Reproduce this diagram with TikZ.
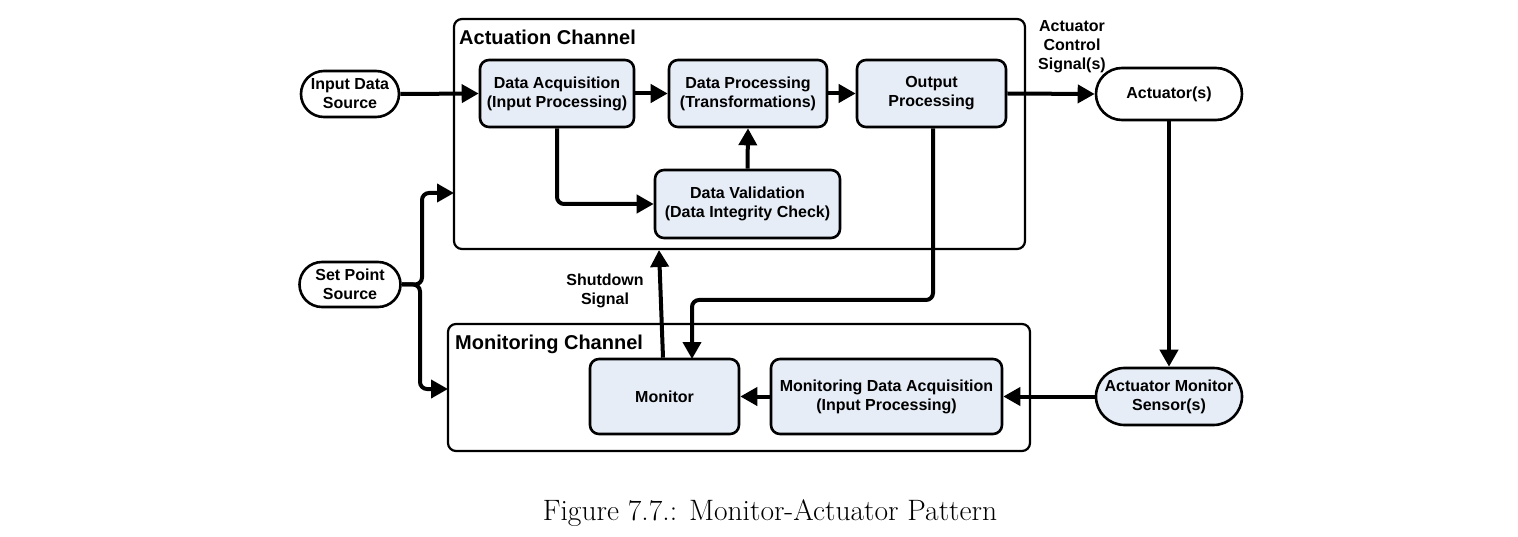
\documentclass[tikz,border=0pt]{standalone}
\usepackage{fontspec}
\setsansfont{Liberation Sans}
\usetikzlibrary{arrows.meta}
\definecolor{boxfill}{RGB}{230,237,247}
\tikzset{
  every node/.style={font=\sffamily\bfseries\fontsize{16}{19}\selectfont},
  chan/.style={draw, line width=2.2pt, rounded corners=8pt},
  proc/.style={draw, line width=2.6pt, rounded corners=9pt, fill=boxfill, align=center, inner sep=0pt},
  term/.style={draw, line width=2.6pt, align=center, inner sep=0pt},
  conn/.style={line width=4pt, -{Triangle[length=17pt,width=18pt]}, rounded corners=7pt},
  ttl/.style={anchor=base west, inner sep=0pt, font=\sffamily\bfseries\fontsize{20}{22}\selectfont},
  lbl/.style={align=center, inner sep=0pt},
}
\begin{document}
\begin{tikzpicture}[x=1pt,y=-1pt]
\useasboundingbox (0,0) rectangle (1518,537);
% channels
\node[chan, minimum width=571pt, minimum height=230pt, inner sep=0pt] (act) at (739.5,134) {};
\node[chan, minimum width=582pt, minimum height=127pt, inner sep=0pt] (mon) at (739,387.5) {};
\node[ttl] (actt) at (459,45) {Actuation Channel};
\node[ttl] (mont) at (455,349) {Monitoring Channel};
% terminals
\node[term, minimum width=98pt, minimum height=46pt, rounded corners=23pt] (ids) at (350,94) {Input Data\\Source};
\node[term, minimum width=101pt, minimum height=45pt, rounded corners=22.5pt] (sps) at (350,284.5) {Set Point\\Source};
\node[term, minimum width=146pt, minimum height=52pt, rounded corners=26pt] (actu) at (1169,94) {Actuator(s)};
\node[term, fill=boxfill, minimum width=146pt, minimum height=57pt, rounded corners=28.5pt] (sens) at (1169,396.5) {Actuator Monitor\\Sensor(s)};
% process boxes
\node[proc, minimum width=154pt, minimum height=67pt] (da) at (557,93.5) {Data Acquisition\\(Input Processing)};
\node[proc, minimum width=158pt, minimum height=67pt] (dp) at (748,93.5) {Data Processing\\(Transformations)};
\node[proc, minimum width=149pt, minimum height=67pt] (op) at (931.5,93.5) {Output\\Processing};
\node[proc, minimum width=185pt, minimum height=68pt] (dv) at (747.5,204) {Data Validation\\(Data Integrity Check)};
\node[proc, minimum width=149pt, minimum height=75pt] (monb) at (664.5,396.5) {Monitor};
\node[proc, minimum width=231pt, minimum height=75pt] (mda) at (886.5,396.5) {Monitoring Data Acquisition\\(Input Processing)};
% labels
\node[lbl] (acs) at (1072,47) {Actuator\\Control\\Signal(s)};
\node[lbl] (sds) at (605,291) {Shutdown\\Signal};
% coordinates
\coordinate (spU) at (454,193);
\coordinate (spD) at (448,389);
\coordinate (sdTop) at (659,250);
% connectors
\draw[conn] (ids.east) -- (da.west);
\draw[conn] (da.east) -- (dp.west);
\draw[conn] (dp.east) -- (op.west);
\draw[conn] (op.east) -- (actu.west);
\draw[conn] (da.south) -- (557,204) -- (dv.west);
\draw[conn] (dv.north) -- (dp.south);
\draw[conn] (op.south -| 933,0) -- (933,300) -- (692,300) -- (692,359);
\draw[conn] (actu.south) -- (sens.north);
\draw[conn] (sens.west) -- (mda.east);
\draw[conn] (mda.west) -- (monb.east);
\draw[conn] (monb.north -| 663,0) -- (sdTop);
\draw[conn] (sps.east) -- (422,284.5) -- (422,193) -- (spU);
\draw[conn] (sps.east) -- (420,284.5) -- (420,389) -- (spD);
% caption
\node[font=\fontsize{29.5}{32}\selectfont\rmfamily, anchor=base] (cap) at (770,520) {Figure 7.7.: Monitor-Actuator Pattern};
\end{tikzpicture}
\end{document}
